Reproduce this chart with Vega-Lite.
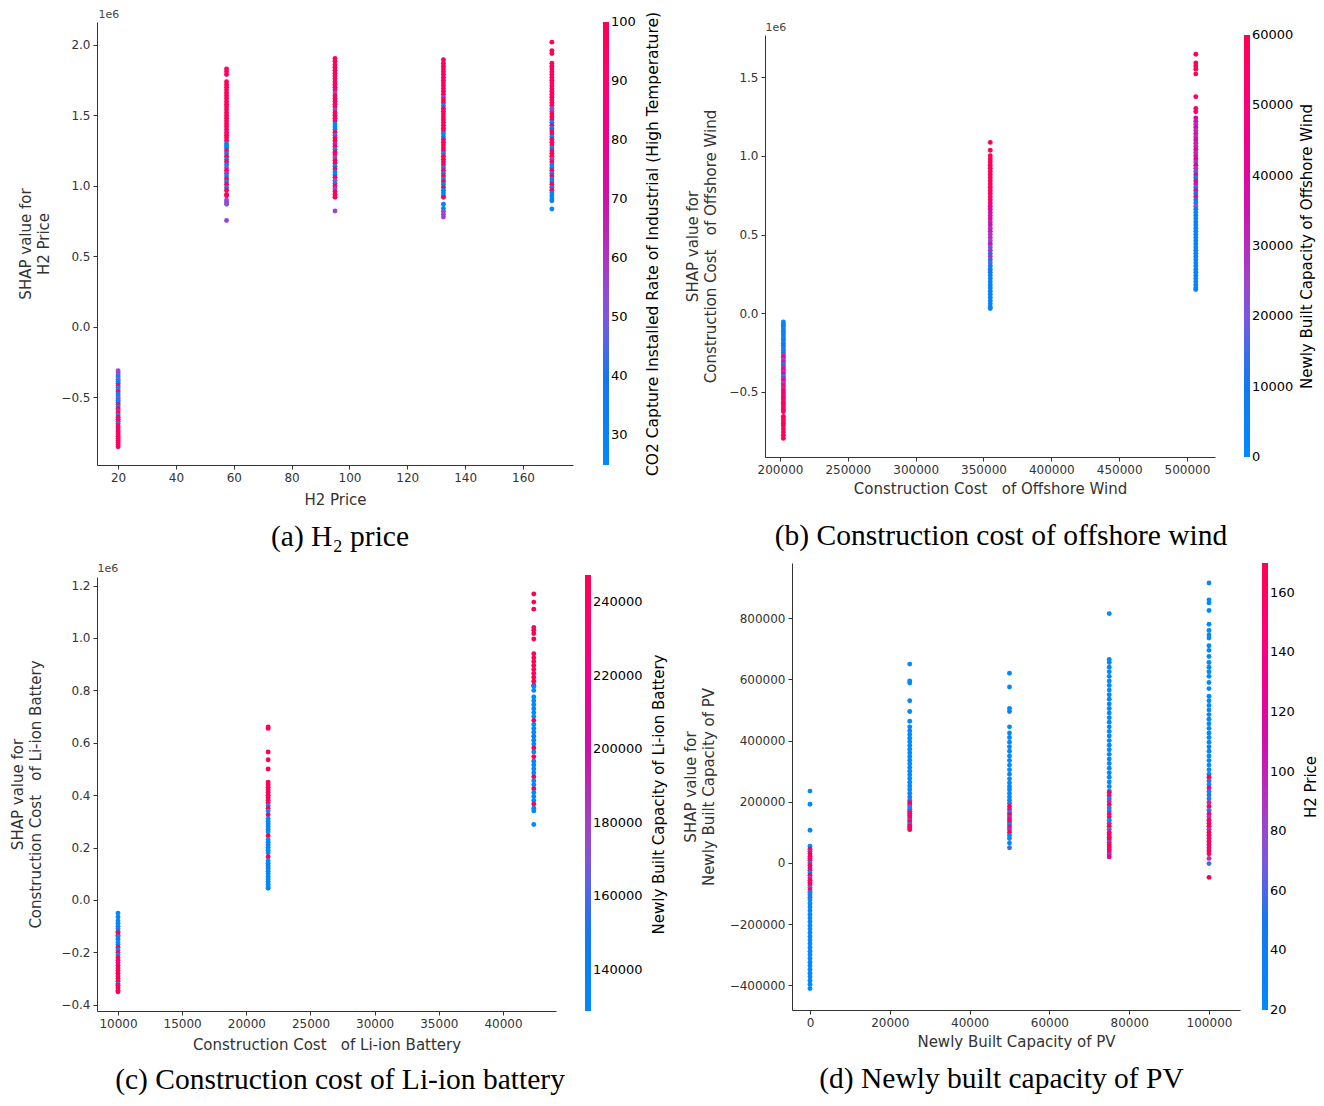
{
  "$schema": "https://vega.github.io/schema/vega-lite/v6.json",
  "background": "white",
  "padding": {"left": 10, "top": 8, "right": 0, "bottom": 0},
  "datasets": {
    "h2": [
      {"x":20,"y":-0.31,"c":55},{"x":20,"y":-0.325,"c":55},{"x":20,"y":-0.34,"c":52},{"x":20,"y":-0.355,"c":30},{"x":20,"y":-0.37,"c":50},{"x":20,"y":-0.385,"c":30},{"x":20,"y":-0.4,"c":32},{"x":20,"y":-0.415,"c":97},{"x":20,"y":-0.43,"c":30},{"x":20,"y":-0.445,"c":45},{"x":20,"y":-0.46,"c":97},{"x":20,"y":-0.475,"c":30},{"x":20,"y":-0.49,"c":32},{"x":20,"y":-0.505,"c":55},{"x":20,"y":-0.52,"c":30},{"x":20,"y":-0.535,"c":30},{"x":20,"y":-0.55,"c":97},{"x":20,"y":-0.565,"c":30},{"x":20,"y":-0.58,"c":97},{"x":20,"y":-0.595,"c":60},{"x":20,"y":-0.61,"c":97},{"x":20,"y":-0.625,"c":30},{"x":20,"y":-0.64,"c":97},{"x":20,"y":-0.655,"c":75},{"x":20,"y":-0.67,"c":97},{"x":20,"y":-0.685,"c":35},{"x":20,"y":-0.7,"c":97},{"x":20,"y":-0.715,"c":97},{"x":20,"y":-0.73,"c":90},{"x":20,"y":-0.745,"c":97},{"x":20,"y":-0.76,"c":97},{"x":20,"y":-0.775,"c":97},{"x":20,"y":-0.79,"c":97},{"x":20,"y":-0.805,"c":97},{"x":20,"y":-0.82,"c":97},{"x":20,"y":-0.835,"c":97},{"x":20,"y":-0.85,"c":97},
      {"x":57.5,"y":1.83,"c":97},{"x":57.5,"y":1.81,"c":97},{"x":57.5,"y":1.79,"c":97},{"x":57.5,"y":1.74,"c":97},{"x":57.5,"y":1.72,"c":97},{"x":57.5,"y":1.7,"c":97},{"x":57.5,"y":1.68,"c":97},{"x":57.5,"y":1.66,"c":97},{"x":57.5,"y":1.64,"c":97},{"x":57.5,"y":1.62,"c":97},{"x":57.5,"y":1.6,"c":97},{"x":57.5,"y":1.58,"c":97},{"x":57.5,"y":1.56,"c":97},{"x":57.5,"y":1.54,"c":97},{"x":57.5,"y":1.52,"c":97},{"x":57.5,"y":1.5,"c":97},{"x":57.5,"y":1.48,"c":97},{"x":57.5,"y":1.46,"c":97},{"x":57.5,"y":1.44,"c":97},{"x":57.5,"y":1.42,"c":97},{"x":57.5,"y":1.4,"c":97},{"x":57.5,"y":1.38,"c":90},{"x":57.5,"y":1.36,"c":97},{"x":57.5,"y":1.34,"c":97},{"x":57.5,"y":1.32,"c":97},{"x":57.5,"y":1.3,"c":30},{"x":57.5,"y":1.285,"c":30},{"x":57.5,"y":1.27,"c":32},{"x":57.5,"y":1.25,"c":97},{"x":57.5,"y":1.23,"c":30},{"x":57.5,"y":1.21,"c":97},{"x":57.5,"y":1.19,"c":35},{"x":57.5,"y":1.17,"c":97},{"x":57.5,"y":1.15,"c":30},{"x":57.5,"y":1.13,"c":55},{"x":57.5,"y":1.11,"c":97},{"x":57.5,"y":1.09,"c":60},{"x":57.5,"y":1.07,"c":30},{"x":57.5,"y":1.05,"c":97},{"x":57.5,"y":1.03,"c":30},{"x":57.5,"y":1.01,"c":97},{"x":57.5,"y":0.99,"c":30},{"x":57.5,"y":0.97,"c":97},{"x":57.5,"y":0.94,"c":97},{"x":57.5,"y":0.93,"c":97},{"x":57.5,"y":0.9,"c":55},{"x":57.5,"y":0.885,"c":55},{"x":57.5,"y":0.87,"c":52},{"x":57.5,"y":0.755,"c":55},
      {"x":95,"y":1.905,"c":97},{"x":95,"y":1.885,"c":97},{"x":95,"y":1.86,"c":97},{"x":95,"y":1.84,"c":97},{"x":95,"y":1.82,"c":97},{"x":95,"y":1.8,"c":97},{"x":95,"y":1.78,"c":97},{"x":95,"y":1.76,"c":97},{"x":95,"y":1.74,"c":97},{"x":95,"y":1.72,"c":97},{"x":95,"y":1.7,"c":97},{"x":95,"y":1.68,"c":97},{"x":95,"y":1.66,"c":55},{"x":95,"y":1.64,"c":97},{"x":95,"y":1.62,"c":97},{"x":95,"y":1.6,"c":97},{"x":95,"y":1.58,"c":97},{"x":95,"y":1.56,"c":97},{"x":95,"y":1.54,"c":55},{"x":95,"y":1.52,"c":97},{"x":95,"y":1.5,"c":97},{"x":95,"y":1.48,"c":97},{"x":95,"y":1.46,"c":97},{"x":95,"y":1.44,"c":30},{"x":95,"y":1.42,"c":30},{"x":95,"y":1.4,"c":32},{"x":95,"y":1.38,"c":97},{"x":95,"y":1.36,"c":30},{"x":95,"y":1.34,"c":97},{"x":95,"y":1.32,"c":97},{"x":95,"y":1.3,"c":65},{"x":95,"y":1.28,"c":97},{"x":95,"y":1.26,"c":30},{"x":95,"y":1.24,"c":97},{"x":95,"y":1.22,"c":97},{"x":95,"y":1.2,"c":55},{"x":95,"y":1.18,"c":97},{"x":95,"y":1.16,"c":97},{"x":95,"y":1.14,"c":30},{"x":95,"y":1.12,"c":97},{"x":95,"y":1.1,"c":30},{"x":95,"y":1.08,"c":32},{"x":95,"y":1.06,"c":97},{"x":95,"y":1.04,"c":55},{"x":95,"y":1.02,"c":30},{"x":95,"y":1.0,"c":97},{"x":95,"y":0.98,"c":55},{"x":95,"y":0.96,"c":97},{"x":95,"y":0.94,"c":97},{"x":95,"y":0.92,"c":97},{"x":95,"y":0.823,"c":55},
      {"x":132.5,"y":1.895,"c":97},{"x":132.5,"y":1.87,"c":97},{"x":132.5,"y":1.85,"c":97},{"x":132.5,"y":1.83,"c":97},{"x":132.5,"y":1.81,"c":97},{"x":132.5,"y":1.79,"c":97},{"x":132.5,"y":1.77,"c":97},{"x":132.5,"y":1.75,"c":97},{"x":132.5,"y":1.73,"c":97},{"x":132.5,"y":1.71,"c":97},{"x":132.5,"y":1.69,"c":97},{"x":132.5,"y":1.67,"c":97},{"x":132.5,"y":1.65,"c":97},{"x":132.5,"y":1.63,"c":60},{"x":132.5,"y":1.61,"c":97},{"x":132.5,"y":1.59,"c":97},{"x":132.5,"y":1.57,"c":30},{"x":132.5,"y":1.55,"c":97},{"x":132.5,"y":1.53,"c":97},{"x":132.5,"y":1.51,"c":97},{"x":132.5,"y":1.49,"c":97},{"x":132.5,"y":1.47,"c":97},{"x":132.5,"y":1.45,"c":97},{"x":132.5,"y":1.43,"c":97},{"x":132.5,"y":1.41,"c":97},{"x":132.5,"y":1.39,"c":97},{"x":132.5,"y":1.37,"c":30},{"x":132.5,"y":1.35,"c":30},{"x":132.5,"y":1.33,"c":97},{"x":132.5,"y":1.31,"c":97},{"x":132.5,"y":1.29,"c":97},{"x":132.5,"y":1.27,"c":97},{"x":132.5,"y":1.25,"c":97},{"x":132.5,"y":1.23,"c":30},{"x":132.5,"y":1.21,"c":97},{"x":132.5,"y":1.19,"c":97},{"x":132.5,"y":1.17,"c":97},{"x":132.5,"y":1.15,"c":97},{"x":132.5,"y":1.13,"c":30},{"x":132.5,"y":1.11,"c":97},{"x":132.5,"y":1.09,"c":30},{"x":132.5,"y":1.07,"c":97},{"x":132.5,"y":1.05,"c":30},{"x":132.5,"y":1.03,"c":97},{"x":132.5,"y":1.01,"c":30},{"x":132.5,"y":0.99,"c":97},{"x":132.5,"y":0.97,"c":30},{"x":132.5,"y":0.95,"c":30},{"x":132.5,"y":0.93,"c":30},{"x":132.5,"y":0.92,"c":97},{"x":132.5,"y":0.87,"c":30},{"x":132.5,"y":0.84,"c":30},{"x":132.5,"y":0.82,"c":55},{"x":132.5,"y":0.8,"c":55},{"x":132.5,"y":0.78,"c":55},
      {"x":170,"y":2.02,"c":97},{"x":170,"y":1.96,"c":97},{"x":170,"y":1.94,"c":97},{"x":170,"y":1.87,"c":97},{"x":170,"y":1.85,"c":97},{"x":170,"y":1.83,"c":97},{"x":170,"y":1.81,"c":97},{"x":170,"y":1.79,"c":97},{"x":170,"y":1.77,"c":97},{"x":170,"y":1.75,"c":97},{"x":170,"y":1.73,"c":97},{"x":170,"y":1.71,"c":97},{"x":170,"y":1.69,"c":97},{"x":170,"y":1.67,"c":97},{"x":170,"y":1.65,"c":97},{"x":170,"y":1.63,"c":97},{"x":170,"y":1.61,"c":97},{"x":170,"y":1.59,"c":97},{"x":170,"y":1.57,"c":97},{"x":170,"y":1.55,"c":55},{"x":170,"y":1.53,"c":60},{"x":170,"y":1.51,"c":97},{"x":170,"y":1.49,"c":97},{"x":170,"y":1.47,"c":97},{"x":170,"y":1.45,"c":30},{"x":170,"y":1.43,"c":97},{"x":170,"y":1.41,"c":30},{"x":170,"y":1.39,"c":97},{"x":170,"y":1.37,"c":97},{"x":170,"y":1.35,"c":30},{"x":170,"y":1.33,"c":97},{"x":170,"y":1.31,"c":97},{"x":170,"y":1.29,"c":97},{"x":170,"y":1.27,"c":30},{"x":170,"y":1.25,"c":97},{"x":170,"y":1.23,"c":97},{"x":170,"y":1.21,"c":97},{"x":170,"y":1.19,"c":55},{"x":170,"y":1.17,"c":97},{"x":170,"y":1.15,"c":30},{"x":170,"y":1.13,"c":30},{"x":170,"y":1.11,"c":97},{"x":170,"y":1.09,"c":30},{"x":170,"y":1.07,"c":97},{"x":170,"y":1.05,"c":30},{"x":170,"y":1.03,"c":30},{"x":170,"y":1.01,"c":97},{"x":170,"y":0.99,"c":30},{"x":170,"y":0.97,"c":97},{"x":170,"y":0.95,"c":30},{"x":170,"y":0.93,"c":30},{"x":170,"y":0.91,"c":30},{"x":170,"y":0.895,"c":30},{"x":170,"y":0.837,"c":30}
    ],
    "wind": [
      {"x":202500,"y":-0.055,"c":3000},{"x":202500,"y":-0.07,"c":3000},{"x":202500,"y":-0.085,"c":5000},{"x":202500,"y":-0.1,"c":3000},{"x":202500,"y":-0.115,"c":8000},{"x":202500,"y":-0.13,"c":3000},{"x":202500,"y":-0.145,"c":5000},{"x":202500,"y":-0.16,"c":3000},{"x":202500,"y":-0.175,"c":10000},{"x":202500,"y":-0.19,"c":3000},{"x":202500,"y":-0.205,"c":12000},{"x":202500,"y":-0.22,"c":3000},{"x":202500,"y":-0.235,"c":15000},{"x":202500,"y":-0.25,"c":5000},{"x":202500,"y":-0.265,"c":30000},{"x":202500,"y":-0.28,"c":42000},{"x":202500,"y":-0.295,"c":20000},{"x":202500,"y":-0.31,"c":35000},{"x":202500,"y":-0.325,"c":10000},{"x":202500,"y":-0.34,"c":30000},{"x":202500,"y":-0.355,"c":45000},{"x":202500,"y":-0.37,"c":28000},{"x":202500,"y":-0.385,"c":40000},{"x":202500,"y":-0.4,"c":15000},{"x":202500,"y":-0.415,"c":32000},{"x":202500,"y":-0.43,"c":50000},{"x":202500,"y":-0.445,"c":25000},{"x":202500,"y":-0.46,"c":45000},{"x":202500,"y":-0.475,"c":30000},{"x":202500,"y":-0.49,"c":52000},{"x":202500,"y":-0.505,"c":58000},{"x":202500,"y":-0.52,"c":40000},{"x":202500,"y":-0.535,"c":58000},{"x":202500,"y":-0.55,"c":55000},{"x":202500,"y":-0.565,"c":58000},{"x":202500,"y":-0.58,"c":58000},{"x":202500,"y":-0.595,"c":50000},{"x":202500,"y":-0.61,"c":58000},{"x":202500,"y":-0.625,"c":58000},{"x":202500,"y":-0.655,"c":55000},{"x":202500,"y":-0.67,"c":58000},{"x":202500,"y":-0.685,"c":58000},{"x":202500,"y":-0.7,"c":58000},{"x":202500,"y":-0.715,"c":58000},{"x":202500,"y":-0.735,"c":58000},{"x":202500,"y":-0.755,"c":58000},{"x":202500,"y":-0.775,"c":58000},{"x":202500,"y":-0.795,"c":58000},
      {"x":355000,"y":1.085,"c":58000},{"x":355000,"y":1.035,"c":58000},{"x":355000,"y":1.0,"c":58000},{"x":355000,"y":0.98,"c":58000},{"x":355000,"y":0.96,"c":58000},{"x":355000,"y":0.94,"c":58000},{"x":355000,"y":0.92,"c":58000},{"x":355000,"y":0.9,"c":58000},{"x":355000,"y":0.88,"c":58000},{"x":355000,"y":0.86,"c":58000},{"x":355000,"y":0.84,"c":55000},{"x":355000,"y":0.82,"c":58000},{"x":355000,"y":0.8,"c":58000},{"x":355000,"y":0.78,"c":55000},{"x":355000,"y":0.76,"c":58000},{"x":355000,"y":0.74,"c":52000},{"x":355000,"y":0.72,"c":58000},{"x":355000,"y":0.7,"c":50000},{"x":355000,"y":0.68,"c":45000},{"x":355000,"y":0.66,"c":42000},{"x":355000,"y":0.64,"c":38000},{"x":355000,"y":0.62,"c":35000},{"x":355000,"y":0.6,"c":40000},{"x":355000,"y":0.58,"c":32000},{"x":355000,"y":0.56,"c":35000},{"x":355000,"y":0.54,"c":30000},{"x":355000,"y":0.52,"c":33000},{"x":355000,"y":0.5,"c":28000},{"x":355000,"y":0.48,"c":30000},{"x":355000,"y":0.46,"c":25000},{"x":355000,"y":0.44,"c":35000},{"x":355000,"y":0.42,"c":15000},{"x":355000,"y":0.4,"c":28000},{"x":355000,"y":0.38,"c":12000},{"x":355000,"y":0.36,"c":30000},{"x":355000,"y":0.34,"c":10000},{"x":355000,"y":0.32,"c":20000},{"x":355000,"y":0.3,"c":8000},{"x":355000,"y":0.28,"c":5000},{"x":355000,"y":0.26,"c":12000},{"x":355000,"y":0.24,"c":3000},{"x":355000,"y":0.22,"c":5000},{"x":355000,"y":0.2,"c":3000},{"x":355000,"y":0.18,"c":3000},{"x":355000,"y":0.16,"c":5000},{"x":355000,"y":0.14,"c":3000},{"x":355000,"y":0.12,"c":3000},{"x":355000,"y":0.1,"c":4000},{"x":355000,"y":0.08,"c":3000},{"x":355000,"y":0.06,"c":3000},{"x":355000,"y":0.04,"c":3000},{"x":355000,"y":0.03,"c":3000},
      {"x":506500,"y":1.645,"c":58000},{"x":506500,"y":1.59,"c":58000},{"x":506500,"y":1.57,"c":58000},{"x":506500,"y":1.55,"c":58000},{"x":506500,"y":1.52,"c":58000},{"x":506500,"y":1.375,"c":58000},{"x":506500,"y":1.3,"c":58000},{"x":506500,"y":1.28,"c":50000},{"x":506500,"y":1.24,"c":40000},{"x":506500,"y":1.22,"c":35000},{"x":506500,"y":1.2,"c":30000},{"x":506500,"y":1.18,"c":38000},{"x":506500,"y":1.16,"c":28000},{"x":506500,"y":1.14,"c":35000},{"x":506500,"y":1.12,"c":30000},{"x":506500,"y":1.1,"c":40000},{"x":506500,"y":1.08,"c":32000},{"x":506500,"y":1.06,"c":30000},{"x":506500,"y":1.04,"c":42000},{"x":506500,"y":1.02,"c":30000},{"x":506500,"y":1.0,"c":35000},{"x":506500,"y":0.98,"c":45000},{"x":506500,"y":0.96,"c":28000},{"x":506500,"y":0.94,"c":40000},{"x":506500,"y":0.92,"c":30000},{"x":506500,"y":0.9,"c":15000},{"x":506500,"y":0.88,"c":42000},{"x":506500,"y":0.86,"c":10000},{"x":506500,"y":0.84,"c":50000},{"x":506500,"y":0.82,"c":35000},{"x":506500,"y":0.8,"c":8000},{"x":506500,"y":0.78,"c":40000},{"x":506500,"y":0.76,"c":12000},{"x":506500,"y":0.74,"c":45000},{"x":506500,"y":0.72,"c":10000},{"x":506500,"y":0.7,"c":5000},{"x":506500,"y":0.68,"c":20000},{"x":506500,"y":0.66,"c":8000},{"x":506500,"y":0.64,"c":3000},{"x":506500,"y":0.62,"c":5000},{"x":506500,"y":0.6,"c":3000},{"x":506500,"y":0.58,"c":3000},{"x":506500,"y":0.56,"c":5000},{"x":506500,"y":0.54,"c":3000},{"x":506500,"y":0.52,"c":3000},{"x":506500,"y":0.5,"c":4000},{"x":506500,"y":0.48,"c":3000},{"x":506500,"y":0.46,"c":3000},{"x":506500,"y":0.44,"c":5000},{"x":506500,"y":0.42,"c":3000},{"x":506500,"y":0.4,"c":3000},{"x":506500,"y":0.38,"c":3000},{"x":506500,"y":0.36,"c":4000},{"x":506500,"y":0.34,"c":3000},{"x":506500,"y":0.32,"c":3000},{"x":506500,"y":0.3,"c":3000},{"x":506500,"y":0.28,"c":3000},{"x":506500,"y":0.26,"c":3000},{"x":506500,"y":0.24,"c":3000},{"x":506500,"y":0.22,"c":3000},{"x":506500,"y":0.2,"c":3000},{"x":506500,"y":0.18,"c":3000},{"x":506500,"y":0.16,"c":3000},{"x":506500,"y":0.15,"c":3000}
    ],
    "battery": [
      {"x":10000,"y":-0.05,"c":133000},{"x":10000,"y":-0.065,"c":133000},{"x":10000,"y":-0.08,"c":135000},{"x":10000,"y":-0.09,"c":133000},{"x":10000,"y":-0.1,"c":133000},{"x":10000,"y":-0.11,"c":140000},{"x":10000,"y":-0.12,"c":133000},{"x":10000,"y":-0.125,"c":245000},{"x":10000,"y":-0.135,"c":245000},{"x":10000,"y":-0.14,"c":133000},{"x":10000,"y":-0.15,"c":150000},{"x":10000,"y":-0.16,"c":133000},{"x":10000,"y":-0.17,"c":133000},{"x":10000,"y":-0.18,"c":245000},{"x":10000,"y":-0.19,"c":133000},{"x":10000,"y":-0.2,"c":240000},{"x":10000,"y":-0.21,"c":133000},{"x":10000,"y":-0.22,"c":245000},{"x":10000,"y":-0.23,"c":245000},{"x":10000,"y":-0.24,"c":200000},{"x":10000,"y":-0.25,"c":245000},{"x":10000,"y":-0.26,"c":245000},{"x":10000,"y":-0.27,"c":245000},{"x":10000,"y":-0.28,"c":245000},{"x":10000,"y":-0.29,"c":245000},{"x":10000,"y":-0.3,"c":245000},{"x":10000,"y":-0.31,"c":245000},{"x":10000,"y":-0.32,"c":133000},{"x":10000,"y":-0.325,"c":245000},{"x":10000,"y":-0.335,"c":245000},{"x":10000,"y":-0.345,"c":245000},{"x":10000,"y":-0.35,"c":245000},
      {"x":21700,"y":0.66,"c":245000},{"x":21700,"y":0.655,"c":245000},{"x":21700,"y":0.565,"c":245000},{"x":21700,"y":0.535,"c":245000},{"x":21700,"y":0.5,"c":245000},{"x":21700,"y":0.45,"c":245000},{"x":21700,"y":0.44,"c":245000},{"x":21700,"y":0.43,"c":245000},{"x":21700,"y":0.42,"c":245000},{"x":21700,"y":0.41,"c":245000},{"x":21700,"y":0.4,"c":245000},{"x":21700,"y":0.39,"c":245000},{"x":21700,"y":0.38,"c":240000},{"x":21700,"y":0.37,"c":245000},{"x":21700,"y":0.36,"c":133000},{"x":21700,"y":0.35,"c":245000},{"x":21700,"y":0.34,"c":133000},{"x":21700,"y":0.325,"c":245000},{"x":21700,"y":0.31,"c":133000},{"x":21700,"y":0.3,"c":133000},{"x":21700,"y":0.29,"c":133000},{"x":21700,"y":0.28,"c":135000},{"x":21700,"y":0.27,"c":133000},{"x":21700,"y":0.26,"c":133000},{"x":21700,"y":0.245,"c":245000},{"x":21700,"y":0.23,"c":133000},{"x":21700,"y":0.22,"c":133000},{"x":21700,"y":0.21,"c":140000},{"x":21700,"y":0.2,"c":133000},{"x":21700,"y":0.19,"c":133000},{"x":21700,"y":0.18,"c":133000},{"x":21700,"y":0.165,"c":245000},{"x":21700,"y":0.15,"c":133000},{"x":21700,"y":0.14,"c":133000},{"x":21700,"y":0.13,"c":150000},{"x":21700,"y":0.12,"c":133000},{"x":21700,"y":0.11,"c":133000},{"x":21700,"y":0.1,"c":133000},{"x":21700,"y":0.09,"c":133000},{"x":21700,"y":0.08,"c":133000},{"x":21700,"y":0.07,"c":133000},{"x":21700,"y":0.06,"c":133000},{"x":21700,"y":0.05,"c":133000},{"x":21700,"y":0.045,"c":133000},
      {"x":42400,"y":1.168,"c":245000},{"x":42400,"y":1.137,"c":245000},{"x":42400,"y":1.11,"c":245000},{"x":42400,"y":1.04,"c":245000},{"x":42400,"y":1.03,"c":245000},{"x":42400,"y":1.017,"c":245000},{"x":42400,"y":0.996,"c":245000},{"x":42400,"y":0.94,"c":245000},{"x":42400,"y":0.925,"c":245000},{"x":42400,"y":0.91,"c":245000},{"x":42400,"y":0.895,"c":245000},{"x":42400,"y":0.88,"c":245000},{"x":42400,"y":0.865,"c":245000},{"x":42400,"y":0.85,"c":245000},{"x":42400,"y":0.835,"c":245000},{"x":42400,"y":0.82,"c":245000},{"x":42400,"y":0.815,"c":133000},{"x":42400,"y":0.8,"c":133000},{"x":42400,"y":0.775,"c":133000},{"x":42400,"y":0.76,"c":133000},{"x":42400,"y":0.745,"c":133000},{"x":42400,"y":0.73,"c":133000},{"x":42400,"y":0.715,"c":133000},{"x":42400,"y":0.7,"c":133000},{"x":42400,"y":0.685,"c":245000},{"x":42400,"y":0.67,"c":133000},{"x":42400,"y":0.655,"c":133000},{"x":42400,"y":0.64,"c":133000},{"x":42400,"y":0.625,"c":150000},{"x":42400,"y":0.61,"c":133000},{"x":42400,"y":0.595,"c":133000},{"x":42400,"y":0.58,"c":245000},{"x":42400,"y":0.565,"c":133000},{"x":42400,"y":0.547,"c":245000},{"x":42400,"y":0.53,"c":133000},{"x":42400,"y":0.515,"c":133000},{"x":42400,"y":0.5,"c":133000},{"x":42400,"y":0.485,"c":133000},{"x":42400,"y":0.47,"c":245000},{"x":42400,"y":0.455,"c":133000},{"x":42400,"y":0.44,"c":133000},{"x":42400,"y":0.425,"c":245000},{"x":42400,"y":0.41,"c":133000},{"x":42400,"y":0.395,"c":133000},{"x":42400,"y":0.38,"c":133000},{"x":42400,"y":0.366,"c":245000},{"x":42400,"y":0.35,"c":133000},{"x":42400,"y":0.34,"c":133000},{"x":42400,"y":0.288,"c":133000}
    ],
    "pv": [
      {"x":0,"y":235000,"c":20},{"x":0,"y":192000,"c":20},{"x":0,"y":107000,"c":20},{"x":0,"y":55000,"c":20},{"x":0,"y":45000,"c":170},{"x":0,"y":38000,"c":95},{"x":0,"y":30000,"c":170},{"x":0,"y":22000,"c":170},{"x":0,"y":15000,"c":132.5},{"x":0,"y":8000,"c":170},{"x":0,"y":0,"c":57.5},{"x":0,"y":-8000,"c":170},{"x":0,"y":-16000,"c":132.5},{"x":0,"y":-24000,"c":170},{"x":0,"y":-32000,"c":20},{"x":0,"y":-40000,"c":170},{"x":0,"y":-48000,"c":95},{"x":0,"y":-56000,"c":170},{"x":0,"y":-64000,"c":132.5},{"x":0,"y":-72000,"c":170},{"x":0,"y":-80000,"c":57.5},{"x":0,"y":-88000,"c":170},{"x":0,"y":-96000,"c":57.5},{"x":0,"y":-104000,"c":20},{"x":0,"y":-112000,"c":57.5},{"x":0,"y":-120000,"c":20},{"x":0,"y":-132000,"c":20},{"x":0,"y":-144000,"c":20},{"x":0,"y":-156000,"c":20},{"x":0,"y":-168000,"c":20},{"x":0,"y":-180000,"c":20},{"x":0,"y":-192000,"c":20},{"x":0,"y":-204000,"c":20},{"x":0,"y":-216000,"c":20},{"x":0,"y":-228000,"c":20},{"x":0,"y":-240000,"c":20},{"x":0,"y":-252000,"c":20},{"x":0,"y":-264000,"c":20},{"x":0,"y":-276000,"c":20},{"x":0,"y":-288000,"c":20},{"x":0,"y":-300000,"c":20},{"x":0,"y":-312000,"c":20},{"x":0,"y":-324000,"c":20},{"x":0,"y":-336000,"c":20},{"x":0,"y":-348000,"c":20},{"x":0,"y":-360000,"c":20},{"x":0,"y":-372000,"c":20},{"x":0,"y":-384000,"c":20},{"x":0,"y":-396000,"c":20},{"x":0,"y":-410000,"c":20},
      {"x":25000,"y":650000,"c":20},{"x":25000,"y":595000,"c":20},{"x":25000,"y":588000,"c":20},{"x":25000,"y":530000,"c":20},{"x":25000,"y":495000,"c":20},{"x":25000,"y":463000,"c":20},{"x":25000,"y":445000,"c":20},{"x":25000,"y":432000,"c":20},{"x":25000,"y":420000,"c":20},{"x":25000,"y":408000,"c":20},{"x":25000,"y":396000,"c":20},{"x":25000,"y":384000,"c":20},{"x":25000,"y":372000,"c":20},{"x":25000,"y":360000,"c":20},{"x":25000,"y":348000,"c":20},{"x":25000,"y":336000,"c":20},{"x":25000,"y":324000,"c":20},{"x":25000,"y":312000,"c":20},{"x":25000,"y":300000,"c":20},{"x":25000,"y":288000,"c":20},{"x":25000,"y":276000,"c":20},{"x":25000,"y":264000,"c":20},{"x":25000,"y":252000,"c":20},{"x":25000,"y":240000,"c":20},{"x":25000,"y":228000,"c":20},{"x":25000,"y":216000,"c":57.5},{"x":25000,"y":205000,"c":20},{"x":25000,"y":197000,"c":170},{"x":25000,"y":190000,"c":132.5},{"x":25000,"y":183000,"c":57.5},{"x":25000,"y":176000,"c":20},{"x":25000,"y":169000,"c":95},{"x":25000,"y":162000,"c":170},{"x":25000,"y":155000,"c":132.5},{"x":25000,"y":148000,"c":170},{"x":25000,"y":141000,"c":95},{"x":25000,"y":134000,"c":170},{"x":25000,"y":127000,"c":57.5},{"x":25000,"y":120000,"c":170},{"x":25000,"y":114000,"c":132.5},{"x":25000,"y":109000,"c":170},
      {"x":50000,"y":620000,"c":20},{"x":50000,"y":575000,"c":20},{"x":50000,"y":505000,"c":20},{"x":50000,"y":495000,"c":20},{"x":50000,"y":445000,"c":20},{"x":50000,"y":425000,"c":20},{"x":50000,"y":410000,"c":20},{"x":50000,"y":395000,"c":20},{"x":50000,"y":380000,"c":20},{"x":50000,"y":365000,"c":20},{"x":50000,"y":350000,"c":20},{"x":50000,"y":335000,"c":20},{"x":50000,"y":320000,"c":20},{"x":50000,"y":305000,"c":20},{"x":50000,"y":290000,"c":20},{"x":50000,"y":275000,"c":20},{"x":50000,"y":262000,"c":20},{"x":50000,"y":250000,"c":20},{"x":50000,"y":240000,"c":20},{"x":50000,"y":228000,"c":20},{"x":50000,"y":216000,"c":20},{"x":50000,"y":205000,"c":20},{"x":50000,"y":195000,"c":57.5},{"x":50000,"y":185000,"c":170},{"x":50000,"y":175000,"c":132.5},{"x":50000,"y":165000,"c":20},{"x":50000,"y":158000,"c":170},{"x":50000,"y":150000,"c":95},{"x":50000,"y":142000,"c":132.5},{"x":50000,"y":134000,"c":170},{"x":50000,"y":126000,"c":20},{"x":50000,"y":118000,"c":132.5},{"x":50000,"y":110000,"c":95},{"x":50000,"y":100000,"c":170},{"x":50000,"y":90000,"c":20},{"x":50000,"y":80000,"c":20},{"x":50000,"y":65000,"c":20},{"x":50000,"y":50000,"c":57.5},
      {"x":75000,"y":815000,"c":20},{"x":75000,"y":665000,"c":20},{"x":75000,"y":655000,"c":20},{"x":75000,"y":640000,"c":20},{"x":75000,"y":625000,"c":20},{"x":75000,"y":610000,"c":20},{"x":75000,"y":595000,"c":20},{"x":75000,"y":580000,"c":20},{"x":75000,"y":565000,"c":20},{"x":75000,"y":550000,"c":20},{"x":75000,"y":535000,"c":20},{"x":75000,"y":520000,"c":20},{"x":75000,"y":505000,"c":20},{"x":75000,"y":490000,"c":20},{"x":75000,"y":475000,"c":20},{"x":75000,"y":460000,"c":20},{"x":75000,"y":445000,"c":20},{"x":75000,"y":430000,"c":20},{"x":75000,"y":415000,"c":20},{"x":75000,"y":400000,"c":20},{"x":75000,"y":385000,"c":20},{"x":75000,"y":370000,"c":20},{"x":75000,"y":355000,"c":20},{"x":75000,"y":340000,"c":20},{"x":75000,"y":325000,"c":20},{"x":75000,"y":310000,"c":20},{"x":75000,"y":295000,"c":20},{"x":75000,"y":280000,"c":20},{"x":75000,"y":265000,"c":20},{"x":75000,"y":250000,"c":20},{"x":75000,"y":235000,"c":20},{"x":75000,"y":230000,"c":170},{"x":75000,"y":220000,"c":132.5},{"x":75000,"y":210000,"c":20},{"x":75000,"y":200000,"c":95},{"x":75000,"y":190000,"c":170},{"x":75000,"y":180000,"c":57.5},{"x":75000,"y":170000,"c":20},{"x":75000,"y":160000,"c":132.5},{"x":75000,"y":150000,"c":170},{"x":75000,"y":140000,"c":20},{"x":75000,"y":130000,"c":95},{"x":75000,"y":120000,"c":170},{"x":75000,"y":110000,"c":57.5},{"x":75000,"y":100000,"c":170},{"x":75000,"y":92000,"c":132.5},{"x":75000,"y":84000,"c":170},{"x":75000,"y":76000,"c":170},{"x":75000,"y":68000,"c":95},{"x":75000,"y":60000,"c":170},{"x":75000,"y":52000,"c":170},{"x":75000,"y":44000,"c":132.5},{"x":75000,"y":36000,"c":170},{"x":75000,"y":28000,"c":95},{"x":75000,"y":20000,"c":132.5},
      {"x":100000,"y":915000,"c":20},{"x":100000,"y":860000,"c":20},{"x":100000,"y":850000,"c":20},{"x":100000,"y":825000,"c":20},{"x":100000,"y":780000,"c":20},{"x":100000,"y":760000,"c":20},{"x":100000,"y":745000,"c":20},{"x":100000,"y":735000,"c":20},{"x":100000,"y":710000,"c":20},{"x":100000,"y":695000,"c":20},{"x":100000,"y":675000,"c":20},{"x":100000,"y":655000,"c":20},{"x":100000,"y":640000,"c":20},{"x":100000,"y":625000,"c":20},{"x":100000,"y":610000,"c":20},{"x":100000,"y":590000,"c":20},{"x":100000,"y":570000,"c":20},{"x":100000,"y":545000,"c":20},{"x":100000,"y":530000,"c":20},{"x":100000,"y":515000,"c":20},{"x":100000,"y":500000,"c":20},{"x":100000,"y":485000,"c":20},{"x":100000,"y":470000,"c":20},{"x":100000,"y":455000,"c":20},{"x":100000,"y":440000,"c":20},{"x":100000,"y":425000,"c":20},{"x":100000,"y":410000,"c":20},{"x":100000,"y":395000,"c":20},{"x":100000,"y":380000,"c":20},{"x":100000,"y":365000,"c":20},{"x":100000,"y":350000,"c":20},{"x":100000,"y":335000,"c":20},{"x":100000,"y":320000,"c":20},{"x":100000,"y":305000,"c":20},{"x":100000,"y":290000,"c":20},{"x":100000,"y":280000,"c":170},{"x":100000,"y":268000,"c":57.5},{"x":100000,"y":256000,"c":20},{"x":100000,"y":245000,"c":132.5},{"x":100000,"y":234000,"c":20},{"x":100000,"y":222000,"c":57.5},{"x":100000,"y":210000,"c":20},{"x":100000,"y":198000,"c":95},{"x":100000,"y":185000,"c":170},{"x":100000,"y":172000,"c":57.5},{"x":100000,"y":160000,"c":132.5},{"x":100000,"y":150000,"c":95},{"x":100000,"y":140000,"c":170},{"x":100000,"y":130000,"c":132.5},{"x":100000,"y":120000,"c":170},{"x":100000,"y":110000,"c":95},{"x":100000,"y":100000,"c":170},{"x":100000,"y":90000,"c":170},{"x":100000,"y":80000,"c":132.5},{"x":100000,"y":70000,"c":170},{"x":100000,"y":60000,"c":170},{"x":100000,"y":50000,"c":132.5},{"x":100000,"y":40000,"c":170},{"x":100000,"y":30000,"c":170},{"x":100000,"y":15000,"c":95},{"x":100000,"y":-2000,"c":57.5},{"x":100000,"y":-47000,"c":170}
    ]
  },
  "columns": 2,
  "spacing": {"row": 98, "column": 192},
  "bounds": "flush",
  "resolve": {"scale": {"x": "independent", "y": "independent", "color": "independent"}, "legend": {"color": "independent"}},
  "concat": [
    {
      "width": 476, "height": 443,
      "data": {"name": "h2"},
      "title": {"text": "(a) H₂ price", "orient": "bottom", "anchor": "middle", "frame": "group", "dx": 5, "offset": 16},
      "resolve": {"axis": {"x": "independent", "y": "independent"}},
      "layer": [
        {
          "mark": {"type": "circle", "size": 24, "opacity": 1},
          "encoding": {
            "x": {"field": "x", "type": "quantitative", "scale": {"domain": [12.7, 177.3], "nice": false, "zero": false},
                  "axis": {"title": "H2 Price", "values": [20, 40, 60, 80, 100, 120, 140, 160], "format": "d", "titlePadding": 9}},
            "y": {"field": "y", "type": "quantitative", "scale": {"domain": [-0.979, 2.163], "nice": false, "zero": false},
                  "axis": {"title": ["SHAP value for", "H2 Price"], "values": [-0.5, 0, 0.5, 1, 1.5, 2], "format": ".1f", "titlePadding": 9}},
            "color": {"field": "c", "type": "quantitative",
                      "scale": {"domain": [25, 40, 45, 50, 55, 60, 70, 80, 90, 100], "range": ["#008afb", "#1676f0", "#4a68e8", "#7a58dc", "#9848d0", "#b034c0", "#d010aa", "#ee0090", "#ff0072", "#ff0052"], "interpolate": "rgb"},
                      "legend": {"title": null, "orient": "none", "legendX": 506, "legendY": 0, "gradientLength": 443, "values": [30, 40, 50, 60, 70, 80, 90, 99.999], "format": "d"}}
          }
        },
        {
          "mark": {"type": "circle", "opacity": 0},
          "encoding": {
            "x": {"field": "x", "type": "quantitative",
                  "axis": {"orient": "top", "title": "1e6", "labels": false, "ticks": false, "domain": false, "titleX": 1, "titleY": -5, "titleAngle": 0, "titleAlign": "left", "titleBaseline": "alphabetic", "titleFontSize": 11, "titleColor": "#444"}},
            "y": {"field": "y", "type": "quantitative",
                  "axis": {"orient": "right", "title": "CO2 Capture Installed Rate of Industrial (High Temperature)", "labels": false, "ticks": false, "domain": false, "titleAngle": 270, "titleBaseline": "top", "titlePadding": 72, "titleColor": "#000", "titleFontSize": 15.5}}
          }
        }
      ]
    },
    {
      "width": 450, "height": 435,
      "data": {"name": "wind"},
      "title": {"text": "(b) Construction cost of offshore wind", "orient": "bottom", "anchor": "middle", "frame": "group", "dx": 11, "offset": 26},
      "resolve": {"axis": {"x": "independent", "y": "independent"}},
      "layer": [
        {
          "mark": {"type": "circle", "size": 24, "opacity": 1},
          "encoding": {
            "x": {"field": "x", "type": "quantitative", "scale": {"domain": [188940, 520650], "nice": false, "zero": false},
                  "axis": {"title": "Construction Cost\u00a0\u00a0\u00a0of Offshore Wind", "values": [200000, 250000, 300000, 350000, 400000, 450000, 500000], "format": "d"}},
            "y": {"field": "y", "type": "quantitative", "scale": {"domain": [-0.913, 1.767], "range": [435, 13], "nice": false, "zero": false},
                  "axis": {"title": ["SHAP value for", "Construction Cost\u00a0\u00a0\u00a0of Offshore Wind"], "values": [-0.5, 0, 0.5, 1, 1.5], "format": ".1f", "titlePadding": 10}},
            "color": {"field": "c", "type": "quantitative",
                      "scale": {"domain": [0, 12000, 16000, 20000, 24000, 28000, 36000, 44000, 52000, 60000], "range": ["#008afb", "#1676f0", "#4a68e8", "#7a58dc", "#9848d0", "#b034c0", "#d010aa", "#ee0090", "#ff0072", "#ff0052"], "interpolate": "rgb"},
                      "legend": {"title": null, "orient": "none", "legendX": 479, "legendY": 13, "gradientLength": 422, "values": [0.01, 10000, 20000, 30000, 40000, 50000, 59999.99], "format": "d"}}
          }
        },
        {
          "mark": {"type": "circle", "opacity": 0},
          "encoding": {
            "x": {"field": "x", "type": "quantitative",
                  "axis": {"orient": "top", "title": "1e6", "labels": false, "ticks": false, "domain": false, "titleX": 0, "titleY": 8, "titleAngle": 0, "titleAlign": "left", "titleBaseline": "alphabetic", "titleFontSize": 11, "titleColor": "#444"}},
            "y": {"field": "y", "type": "quantitative",
                  "axis": {"orient": "right", "title": "Newly Built Capacity of Offshore Wind", "labels": false, "ticks": false, "domain": false, "titleAngle": 270, "titleBaseline": "top", "titlePadding": 84, "titleColor": "#000", "titleFontSize": 15}}
          }
        }
      ]
    },
    {
      "width": 476, "height": 448,
      "data": {"name": "battery"},
      "title": {"text": "(c) Construction cost of Li-ion battery", "orient": "bottom", "anchor": "middle", "frame": "group", "dx": 5, "offset": 14},
      "resolve": {"axis": {"x": "independent", "y": "independent"}},
      "layer": [
        {
          "mark": {"type": "circle", "size": 24, "opacity": 1},
          "encoding": {
            "x": {"field": "x", "type": "quantitative", "scale": {"domain": [8363, 44131], "range": [0, 459], "nice": false, "zero": false},
                  "axis": {"title": "Construction Cost\u00a0\u00a0\u00a0of Li-ion Battery", "values": [10000, 15000, 20000, 25000, 30000, 35000, 40000], "format": "d", "titlePadding": 8}},
            "y": {"field": "y", "type": "quantitative", "scale": {"domain": [-0.4237, 1.2328], "range": [448, 14], "nice": false, "zero": false},
                  "axis": {"title": ["SHAP value for", "Construction Cost\u00a0\u00a0\u00a0of Li-ion Battery"], "values": [-0.4, -0.2, 0, 0.2, 0.4, 0.6, 0.8, 1.0, 1.2], "format": ".1f", "titlePadding": 17}},
            "color": {"field": "c", "type": "quantitative",
                      "scale": {"domain": [128900, 152580, 160473, 168367, 176260, 184153, 199940, 215727, 231513, 247300], "range": ["#008afb", "#1676f0", "#4a68e8", "#7a58dc", "#9848d0", "#b034c0", "#d010aa", "#ee0090", "#ff0072", "#ff0052"], "interpolate": "rgb"},
                      "legend": {"title": null, "orient": "none", "legendX": 488, "legendY": 12, "gradientLength": 436, "values": [140000, 160000, 180000, 200000, 220000, 240000], "format": "d"}}
          }
        },
        {
          "mark": {"type": "circle", "opacity": 0},
          "encoding": {
            "x": {"field": "x", "type": "quantitative",
                  "axis": {"orient": "top", "title": "1e6", "labels": false, "ticks": false, "domain": false, "titleX": 0, "titleY": 8, "titleAngle": 0, "titleAlign": "left", "titleBaseline": "alphabetic", "titleFontSize": 11, "titleColor": "#444"}},
            "y": {"field": "y", "type": "quantitative",
                  "axis": {"orient": "right", "title": "Newly Built Capacity of Li-ion Battery", "labels": false, "ticks": false, "domain": false, "titleAngle": 270, "titleBaseline": "top", "titlePadding": 78, "titleColor": "#000", "titleFontSize": 15}}
          }
        }
      ]
    },
    {
      "width": 475, "height": 447,
      "data": {"name": "pv"},
      "title": {"text": "(d) Newly built capacity of PV", "orient": "bottom", "anchor": "middle", "frame": "group", "dx": -1, "offset": 16},
      "resolve": {"axis": {"x": "independent", "y": "independent"}},
      "layer": [
        {
          "mark": {"type": "circle", "size": 24, "opacity": 1},
          "encoding": {
            "x": {"field": "x", "type": "quantitative", "scale": {"domain": [-4510, 107770], "range": [27, 475], "nice": false, "zero": false},
                  "axis": {"title": "Newly Built Capacity of PV", "values": [0, 20000, 40000, 60000, 80000, 100000], "format": "d"}},
            "y": {"field": "y", "type": "quantitative", "scale": {"domain": [-480400, 980400], "nice": false, "zero": false},
                  "axis": {"title": ["SHAP value for", "Newly Built Capacity of PV"], "values": [-400000, -200000, 0, 200000, 400000, 600000, 800000], "format": "d", "titlePadding": 13, "offset": -27}},
            "color": {"field": "c", "type": "quantitative",
                      "scale": {"domain": [20, 50, 60, 70, 80, 90, 110, 130, 150, 170], "range": ["#008afb", "#1676f0", "#4a68e8", "#7a58dc", "#9848d0", "#b034c0", "#d010aa", "#ee0090", "#ff0072", "#ff0052"], "interpolate": "rgb"},
                      "legend": {"title": null, "orient": "none", "legendX": 497, "legendY": 0, "gradientLength": 447, "values": [20.001, 40, 60, 80, 100, 120, 140, 160], "format": "d"}}
          }
        },
        {
          "mark": {"type": "circle", "opacity": 0},
          "encoding": {
            "x": {"field": "x", "type": "quantitative", "axis": null},
            "y": {"field": "y", "type": "quantitative",
                  "axis": {"orient": "right", "title": "H2 Price", "labels": false, "ticks": false, "domain": false, "titleAngle": 270, "titleBaseline": "top", "titlePadding": 63, "titleColor": "#000", "titleFontSize": 15}}
          }
        }
      ]
    }
  ],
  "config": {
    "font": "DejaVu Sans",
    "view": {"stroke": null},
    "axis": {"grid": false, "domainColor": "#333", "tickColor": "#333", "labelColor": "#333", "titleColor": "#333", "labelFontSize": 12, "titleFontSize": 15, "titleFontWeight": "normal", "tickSize": 4, "labelPadding": 3, "titlePadding": 6, "titleLineHeight": 18, "labelFlush": false, "labelOverlap": false, "labelFont": "DejaVu Sans", "titleFont": "DejaVu Sans"},
    "legend": {"gradientThickness": 6, "gradientStrokeWidth": 0, "labelFontSize": 13, "labelColor": "#000", "labelOffset": 8, "labelOverlap": false, "padding": 0, "direction": "vertical", "labelFont": "DejaVu Sans"},
    "title": {"font": "Liberation Serif", "fontSize": 29.5, "fontWeight": "normal", "color": "#000"}
  }
}
